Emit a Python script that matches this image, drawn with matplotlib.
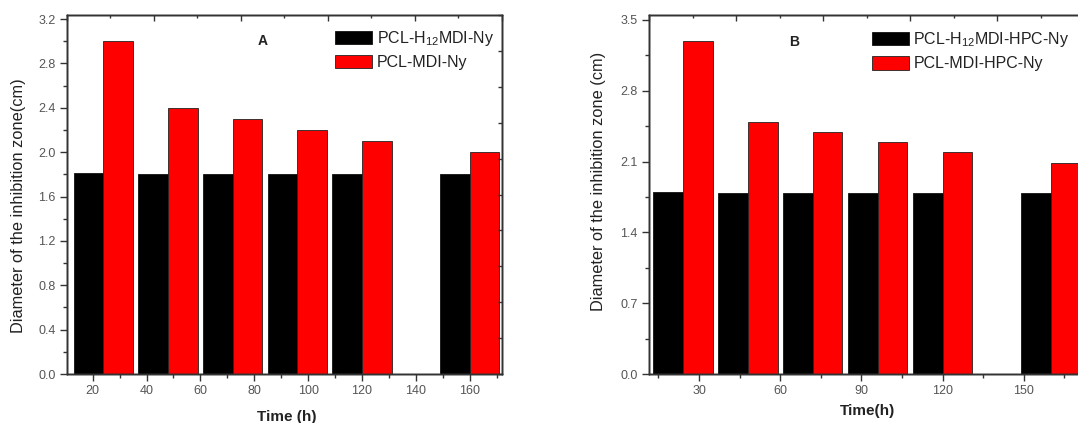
import numpy as np
import matplotlib.pyplot as plt
from matplotlib.ticker import MultipleLocator

plt.rcParams['font.family'] = ['Liberation Sans', 'DejaVu Sans']
plt.rcParams['mathtext.default'] = 'regular'

# panel A
time_a = [24, 48, 72, 96, 120, 160]
h12_a = [1.81, 1.80, 1.80, 1.80, 1.80, 1.80]
mdi_a = [3.0, 2.4, 2.3, 2.2, 2.1, 2.0]
labels_a = ['PCL-H$_{12}$MDI-Ny', 'PCL-MDI-Ny']

# panel B
time_b = [24, 48, 72, 96, 120, 160]
h12_b = [1.80, 1.79, 1.79, 1.79, 1.79, 1.79]
mdi_b = [3.29, 2.49, 2.39, 2.29, 2.19, 2.09]
labels_b = ['PCL-H$_{12}$MDI-HPC-Ny', 'PCL-MDI-HPC-Ny']

width = 11
spine_c = '#333333'
tick_lab_c = '#555555'
text_c = '#222222'


def frame(ax, xlim, ylim, xmaj, xmin, ymaj, ymin):
    ax.set_xlim(xlim)
    ax.set_ylim(ylim)
    ax.xaxis.set_major_locator(MultipleLocator(xmaj))
    ax.xaxis.set_minor_locator(MultipleLocator(xmin))
    ax.yaxis.set_major_locator(MultipleLocator(ymaj))
    ax.yaxis.set_minor_locator(MultipleLocator(ymin))
    ax.tick_params(which='major', direction='out', length=5, width=1,
                   color=spine_c, labelcolor=tick_lab_c, labelsize=9, pad=3)
    ax.tick_params(which='minor', direction='out', length=3, width=1, color=spine_c)
    for s in ax.spines.values():
        s.set_color(spine_c)
        s.set_linewidth(1)

    # origin style inner ticks on top and right
    top = ax.twiny()
    top.set_xlim(0, 1)
    top.xaxis.set_major_locator(MultipleLocator(0.2))
    top.xaxis.set_minor_locator(MultipleLocator(0.1))
    top.tick_params(axis='x', which='major', direction='in', length=4, width=1,
                    color=spine_c, labeltop=False)
    top.tick_params(axis='x', which='minor', direction='in', length=2, width=1,
                    color=spine_c)
    right = ax.twinx()
    right.set_ylim(0, 1)
    right.yaxis.set_major_locator(MultipleLocator(0.2))
    right.yaxis.set_minor_locator(MultipleLocator(0.1))
    right.tick_params(axis='y', which='major', direction='in', length=3, width=1,
                      color=spine_c, labelright=False)
    right.tick_params(axis='y', which='minor', direction='in', length=3, width=1,
                      color=spine_c)
    for t in (top, right):
        for s in t.spines.values():
            s.set_color(spine_c)
            s.set_linewidth(1)


fig = plt.figure(figsize=(10.78, 4.23), dpi=100)
ax1 = fig.add_axes([0.0617, 0.1158, 0.404, 0.8487])
ax2 = fig.add_axes([0.602, 0.1158, 0.404, 0.8487])

# A
t = np.array(time_a)
ax1.bar(t - width / 2, h12_a, width, color='black', edgecolor='#111111',
        linewidth=0.6, label=labels_a[0])
ax1.bar(t + width / 2, mdi_a, width, color='#ff0000', edgecolor='#222222',
        linewidth=0.6, label=labels_a[1])
ax1.set_xlabel('Time (h)', fontsize=11, fontweight='bold', color=text_c)
ax1.set_ylabel('Diameter of the inhibition zone(cm)', fontsize=11.8, color=text_c)
ax1.xaxis.set_label_coords(0.5056, -0.119)
ax1.xaxis.label.set_va('center')
ax1.yaxis.set_label_coords(-0.1107, 0.47)
ax1.yaxis.label.set_va('center')
ax1.text(83, 0.928, 'A', transform=ax1.get_xaxis_transform(), fontsize=10,
         fontweight='bold', color=text_c, ha='center', va='center')
ax1.legend(loc='upper left', bbox_to_anchor=(0.6165, 0.962), frameon=False,
           fontsize=11.5, handlelength=2.3, handleheight=0.9, handletextpad=0.3,
           labelspacing=0.45, borderpad=0, borderaxespad=0, labelcolor=text_c)

# B
t = np.array(time_b)
ax2.bar(t - width / 2, h12_b, width, color='black', edgecolor='#111111',
        linewidth=0.6, label=labels_b[0])
ax2.bar(t + width / 2, mdi_b, width, color='#ff0000', edgecolor='#222222',
        linewidth=0.6, label=labels_b[1])
ax2.set_xlabel('Time(h)', fontsize=11, fontweight='bold', color=text_c)
ax2.set_ylabel('Diameter of the inhibition zone (cm)', fontsize=11.8, color=text_c)
ax2.xaxis.set_label_coords(0.502, -0.103)
ax2.xaxis.label.set_va('center')
ax2.yaxis.set_label_coords(-0.115, 0.537)
ax2.yaxis.label.set_va('center')
ax2.text(65, 0.926, 'B', transform=ax2.get_xaxis_transform(), fontsize=10,
         fontweight='bold', color=text_c, ha='center', va='center')
ax2.legend(loc='upper left', bbox_to_anchor=(0.512, 0.958), frameon=False,
           fontsize=11.5, handlelength=2.3, handleheight=0.9, handletextpad=0.3,
           labelspacing=0.45, borderpad=0, borderaxespad=0, labelcolor=text_c)

frame(ax1, (10.3, 172), (0, 3.236), 20, 10, 0.4, 0.2)
frame(ax2, (11.5, 172.4), (0, 3.549), 30, 15, 0.7, 0.35)

fig.savefig('out.png', dpi=100)
